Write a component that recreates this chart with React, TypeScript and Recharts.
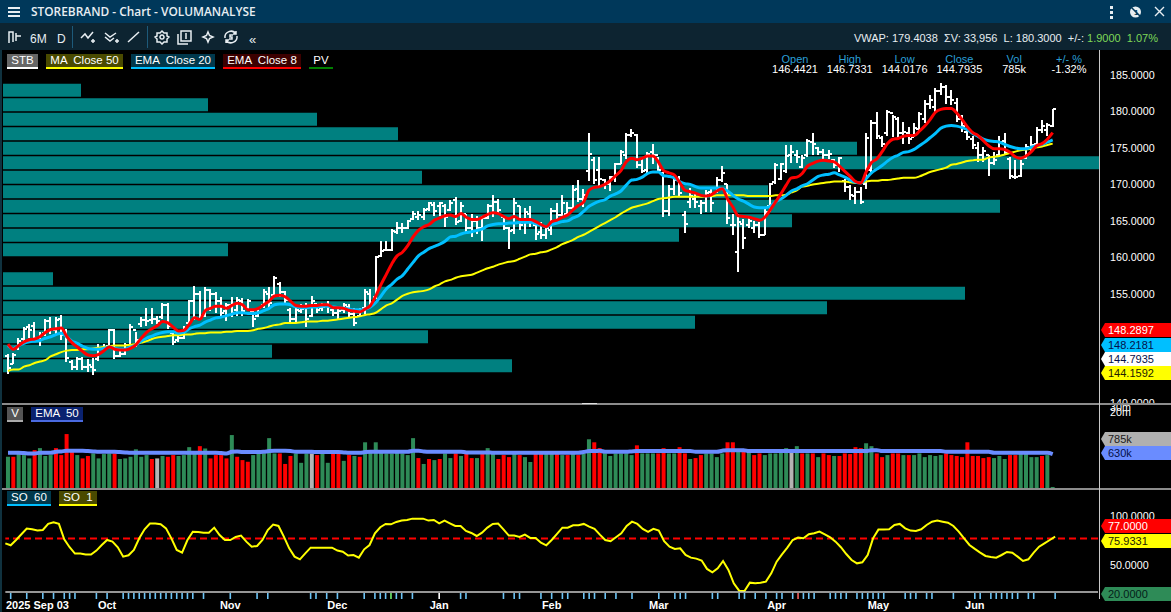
import React from 'react';
import {
  BarChart,
  ComposedChart,
  Bar,
  Line,
  Cell,
  XAxis,
  YAxis,
  ReferenceLine,
} from 'recharts';

const highs = [
  146.7,146.9,148.9,150.5,150.9,151.1,149.8,151.5,151.8,151.8,
  152.1,150.2,145.9,146.3,146.3,146.0,146.2,148.1,148.1,150.2,
  150.2,147.3,148.3,150.8,149.7,151.8,153.0,153.0,152.0,153.8,
  153.8,149.8,149.2,150.6,154.1,156.1,155.4,155.9,155.7,155.2,
  154.5,153.8,154.5,154.5,154.4,154.3,152.7,153.1,155.7,155.9,
  157.5,156.6,155.4,153.1,153.1,153.6,153.8,154.7,153.6,153.7,
  154.0,152.9,152.9,153.8,153.6,153.1,153.1,155.7,155.7,160.2,
  162.3,162.3,163.9,164.8,164.7,165.1,166.4,166.4,166.8,167.6,
  167.6,167.6,167.3,167.9,168.3,167.6,166.0,166.0,165.7,165.7,
  167.3,168.6,168.0,165.5,164.2,168.2,167.0,166.8,167.0,164.5,
  164.8,164.1,166.8,167.4,168.5,167.6,169.9,170.6,169.4,177.0,
  173.8,173.8,170.8,171.2,173.0,174.7,177.0,177.6,176.9,173.5,
  174.5,175.5,173.8,171.7,169.9,171.2,171.2,166.4,169.5,168.9,
  167.8,169.2,169.5,171.0,172.5,170.1,166.0,166.0,165.3,165.5,
  165.0,164.8,166.7,170.2,172.9,173.0,175.4,175.4,174.7,174.0,
  176.3,177.0,175.1,174.8,174.7,173.5,173.8,170.8,169.9,169.6,
  169.6,177.0,178.8,180.0,176.7,180.2,179.5,179.3,178.6,177.9,
  178.4,180.0,181.6,182.2,183.2,183.9,183.6,182.9,181.8,179.5,
  177.4,176.7,175.8,175.1,174.0,174.5,176.7,177.0,173.8,173.3,
  173.3,175.6,176.7,177.9,178.8,178.4,180.4,
];

const lows = [
  144.0,145.3,147.3,148.5,148.9,148.5,147.9,149.2,149.5,149.5,
  148.6,145.6,144.6,144.6,144.5,144.3,143.9,145.8,147.0,147.5,
  146.0,146.3,146.6,147.4,147.7,150.4,150.6,150.8,150.8,151.5,
  150.2,148.0,148.4,148.8,150.8,151.4,151.7,151.8,152.7,152.4,
  151.8,151.3,151.8,152.0,152.0,152.7,150.5,151.8,153.1,153.1,
  154.7,154.5,153.8,150.8,151.1,152.4,150.4,151.8,152.4,152.7,
  152.4,152.0,151.5,152.4,151.8,150.6,152.0,152.2,153.4,154.3,
  160.1,160.9,160.9,163.2,163.4,163.9,165.1,165.1,165.1,166.4,
  165.7,165.7,164.1,166.4,164.4,164.8,163.2,162.8,163.2,162.3,
  165.3,165.5,166.0,163.7,161.2,163.2,163.7,163.2,164.2,162.4,
  162.5,162.5,163.0,165.0,165.7,165.7,166.7,167.6,166.9,170.5,
  170.1,169.8,169.4,169.1,170.3,172.8,173.5,176.5,172.2,171.5,
  171.5,172.8,171.9,165.5,165.7,168.5,168.3,163.3,166.8,166.7,
  166.0,166.2,166.2,168.8,170.4,164.6,163.0,158.0,161.2,164.0,
  163.4,162.6,163.0,166.2,170.1,170.6,171.6,172.9,173.0,172.2,
  173.8,174.0,174.0,173.3,173.5,172.2,171.7,169.0,167.8,167.3,
  167.3,169.4,171.7,176.3,175.1,176.7,176.5,176.3,175.6,175.6,
  176.5,177.2,178.4,180.4,180.0,182.2,181.1,180.9,178.6,177.2,
  176.1,174.9,173.1,173.1,171.2,172.6,174.0,174.0,170.8,170.8,
  171.0,173.5,174.5,175.6,177.0,176.7,177.9,
];

const opens = [
  146.4,145.3,147.5,148.8,150.4,150.6,148.5,149.6,151.2,150.0,
  151.6,149.8,145.6,145.0,146.0,145.0,145.0,146.0,147.6,147.8,
  150.0,146.4,146.8,148.0,150.0,150.8,151.4,151.4,151.6,151.8,
  153.4,149.6,148.6,149.0,151.0,154.0,155.0,152.0,155.5,155.0,
  154.0,152.6,153.4,152.8,154.0,153.0,152.6,152.0,153.4,155.0,
  154.9,156.4,155.2,152.8,151.6,152.6,153.0,152.0,153.6,153.0,
  153.4,152.8,152.4,152.8,153.2,152.2,152.0,153.0,155.0,154.5,
  160.2,161.0,161.0,163.5,164.0,164.0,165.2,165.6,165.6,166.6,
  167.2,167.0,167.0,166.5,167.8,165.0,166.0,164.0,165.0,164.0,
  165.4,167.0,167.6,165.5,164.0,163.8,167.0,165.0,166.0,164.5,
  163.5,163.0,163.8,166.4,165.8,166.0,166.8,169.4,168.0,171.9,
  173.4,172.0,170.6,170.0,171.0,172.8,174.0,176.8,176.8,172.6,
  172.0,174.4,174.0,171.6,166.4,169.4,170.6,165.8,167.6,168.0,
  167.0,167.4,169.0,169.0,170.6,170.0,164.4,160.7,164.6,164.5,
  164.0,164.4,163.0,167.0,170.4,170.8,171.8,174.0,174.0,172.4,
  174.0,175.8,175.0,174.4,174.0,173.4,172.6,170.5,169.6,168.4,
  169.0,170.0,172.0,178.4,176.4,177.0,179.8,179.0,177.0,177.0,
  176.5,177.6,179.0,181.0,180.6,182.8,183.4,182.0,181.2,179.0,
  177.2,176.2,175.0,174.0,174.0,173.0,174.0,176.0,173.5,171.0,
  171.2,173.6,175.0,175.6,177.4,177.4,178.0,
];

const closes = [
  144.8,146.6,148.5,150.2,150.0,149.0,149.4,151.2,150.2,151.4,
  149.4,146.2,145.0,146.0,145.0,145.2,144.6,147.6,147.6,150.0,
  146.4,146.8,148.0,150.4,148.6,151.4,151.2,151.6,151.2,153.5,
  150.6,148.4,149.0,150.2,154.0,155.0,152.0,155.5,155.0,154.0,
  152.4,153.4,152.4,154.2,152.6,154.0,151.5,153.0,155.2,153.8,
  157.2,155.2,154.2,151.6,152.8,152.9,151.6,154.0,152.8,153.2,
  153.2,152.4,152.6,153.4,152.2,151.0,152.8,155.3,153.8,160.0,
  160.8,161.0,163.6,164.0,164.0,165.0,166.0,165.8,166.5,167.4,
  166.4,167.4,165.5,167.5,164.8,167.0,164.0,165.0,164.0,165.4,
  167.0,167.6,166.5,164.0,163.6,167.5,164.5,166.2,165.0,163.2,
  163.0,164.0,166.4,165.8,167.4,166.8,169.2,168.0,168.6,174.2,
  170.6,170.8,170.0,171.0,172.8,174.4,176.8,177.0,172.6,171.9,
  174.2,174.0,172.0,166.4,169.4,170.6,168.8,164.6,168.4,167.6,
  167.4,168.8,167.5,170.6,171.6,165.4,164.5,164.8,162.7,165.0,
  164.4,163.0,166.2,170.0,172.6,172.8,173.9,174.4,173.8,173.6,
  176.0,175.5,174.5,174.0,174.2,172.6,173.6,169.6,168.6,169.0,
  167.6,176.4,178.4,176.6,175.6,180.0,179.2,177.0,177.2,176.2,
  177.8,179.6,181.0,181.6,182.8,183.4,182.0,181.6,179.0,178.0,
  176.5,175.4,174.0,174.6,173.0,173.4,175.8,174.5,171.2,171.0,
  172.8,175.2,175.4,177.4,178.0,178.2,180.3,
];

const ema8 = [
  148.1,147.4,147.9,148.4,148.7,148.8,149.1,149.7,150.1,150.2,
  150.3,149.2,148.3,147.7,147.1,146.6,146.5,146.7,147.2,147.7,
  147.4,147.3,147.3,147.5,148.0,148.9,149.7,150.2,150.6,151.2,
  151.0,150.4,149.9,150.0,150.8,151.7,151.5,152.7,153.0,153.3,
  153.3,153.0,153.4,153.7,153.5,152.8,152.8,153.0,153.5,154.0,
  154.7,154.8,154.6,154.0,153.4,153.3,153.3,153.4,153.4,153.5,
  153.5,153.1,153.1,153.0,152.7,152.6,152.5,152.9,153.4,154.7,
  156.3,157.7,159.1,160.2,160.7,161.6,162.8,163.7,164.2,164.5,
  165.1,165.4,165.7,165.8,165.6,166.0,165.5,165.2,165.2,165.5,
  165.9,166.1,166.0,165.6,165.3,165.6,165.2,165.2,165.2,164.9,
  164.5,164.2,164.9,165.1,165.5,165.8,166.5,167.1,167.6,169.2,
  169.6,169.7,170.0,170.5,171.2,171.9,173.1,173.6,173.4,173.6,
  173.9,173.9,173.1,171.9,171.6,171.3,170.3,169.2,169.0,168.8,
  168.5,168.4,168.6,169.1,169.4,168.0,166.9,165.7,165.6,165.5,
  165.3,165.1,165.5,166.5,167.6,168.7,169.9,170.9,171.0,171.5,
  172.5,172.9,173.2,173.3,173.2,173.1,172.5,171.8,171.1,170.4,
  170.2,171.7,173.0,173.5,174.5,175.6,176.2,176.3,176.6,176.7,
  176.7,177.3,178.0,178.9,179.9,180.3,180.4,180.4,179.8,178.9,
  177.9,177.1,176.7,176.0,175.3,174.9,174.9,174.8,174.4,173.8,
  173.6,173.9,174.5,175.3,175.6,176.2,177.1,
];

const ema20 = [
  147.9,147.5,147.9,148.2,148.4,148.5,148.6,148.9,149.1,149.4,
  149.6,149.1,148.5,148.2,147.8,147.5,147.4,147.4,147.5,147.7,
  147.5,147.4,147.4,147.7,148.0,148.5,148.9,149.2,149.5,149.7,
  149.8,149.8,149.6,149.7,150.2,150.5,150.7,151.1,151.4,151.7,
  151.8,152.0,152.2,152.4,152.4,152.3,152.3,152.4,152.7,153.0,
  153.5,153.6,153.6,153.5,153.2,153.1,153.1,153.2,153.2,153.3,
  153.3,153.2,153.1,153.0,152.9,152.8,152.8,152.9,153.2,153.8,
  154.7,155.7,156.3,157.0,157.5,158.4,159.3,160.2,160.7,161.2,
  161.5,161.8,162.2,162.8,162.9,163.2,163.4,163.5,163.7,163.9,
  164.3,164.5,164.6,164.6,164.7,164.7,164.8,164.8,164.8,164.6,
  164.4,164.2,164.5,164.7,164.9,165.0,165.4,165.7,166.3,167.0,
  167.4,167.7,167.9,168.4,168.7,169.1,169.9,170.6,170.7,171.0,
  171.5,171.7,171.7,171.2,171.1,170.9,170.4,170.1,170.0,169.7,
  169.5,169.5,169.5,169.5,169.4,169.1,168.5,168.0,167.7,167.3,
  166.9,166.8,166.8,167.0,167.6,168.0,168.5,169.1,169.4,169.8,
  170.1,170.6,171.1,171.3,171.4,171.6,171.3,171.0,170.6,170.3,
  170.2,170.8,171.6,172.1,172.6,173.2,173.7,174.0,174.4,174.5,
  174.8,175.3,175.8,176.4,177.0,177.7,178.0,178.1,178.0,177.8,
  177.5,177.0,176.6,176.2,176.0,175.9,175.8,175.5,175.2,175.0,
  174.9,174.9,175.1,175.3,175.5,175.8,176.1,
];

const ma50 = [
  144.4,144.6,144.6,145.0,145.2,145.5,145.7,145.9,146.4,146.7,
  147.0,147.2,147.3,147.3,147.4,147.4,147.5,147.6,147.7,147.8,
  147.9,147.9,147.9,148.0,148.1,148.3,148.5,148.8,149.0,149.1,
  149.2,149.3,149.3,149.4,149.4,149.5,149.6,149.6,149.7,149.7,
  149.7,149.8,149.8,149.9,149.9,149.9,150.0,150.2,150.3,150.5,
  150.7,150.8,151.0,151.0,151.0,151.1,151.2,151.2,151.2,151.3,
  151.3,151.4,151.5,151.6,151.7,151.8,151.9,152.1,152.2,152.4,
  152.9,153.4,153.7,154.2,154.7,155.0,155.2,155.3,155.4,155.6,
  156.0,156.3,156.7,156.9,157.2,157.4,157.5,157.6,157.9,158.2,
  158.5,158.7,159.0,159.2,159.4,159.5,159.8,160.1,160.4,160.5,
  160.7,160.8,161.1,161.4,161.8,162.1,162.4,162.8,163.1,163.5,
  163.9,164.3,164.7,165.1,165.5,166.0,166.4,166.8,167.0,167.2,
  167.4,167.7,168.0,168.1,168.2,168.3,168.3,168.3,168.3,168.3,
  168.3,168.4,168.4,168.5,168.5,168.5,168.5,168.5,168.5,168.4,
  168.4,168.4,168.4,168.4,168.5,168.5,168.6,168.9,169.2,169.7,
  169.8,170.0,170.1,170.2,170.3,170.4,170.4,170.4,170.3,170.2,
  170.2,170.4,170.5,170.5,170.6,170.6,170.7,170.8,170.9,170.9,
  170.9,171.1,171.4,171.7,171.9,172.1,172.3,172.7,172.8,173.0,
  173.2,173.3,173.4,173.4,173.7,173.8,173.9,174.1,174.3,174.5,
  174.7,174.8,174.9,175.1,175.2,175.4,175.6,
];

// volume in thousands
const volumes = [
  458,458,607,528,399,800,950,490,528,950,
  528,3100,860,528,399,490,607,399,575,607,
  607,380,399,458,860,458,528,380,399,490,
  458,528,490,528,1030,607,1120,920,399,528,
  528,399,2850,458,346,301,528,607,607,2200,
  607,607,250,490,607,275,607,607,528,607,
  275,607,607,325,528,490,458,1550,800,1550,
  800,607,607,800,607,528,2200,410,250,380,
  346,380,607,410,607,490,607,410,410,607,
  950,607,380,528,445,607,528,445,295,607,
  607,607,607,607,528,528,607,528,607,2000,
  1550,950,607,490,607,607,607,528,1200,607,
  607,607,607,950,607,607,1030,607,380,410,
  528,607,607,445,607,1550,1550,800,800,700,
  528,607,528,607,607,700,950,800,1120,607,
  607,607,445,607,528,490,490,607,575,1030,
  950,1430,1120,607,445,528,607,607,528,528,
  528,607,445,528,490,528,607,528,490,445,
  1550,490,490,410,445,410,490,380,528,528,
  607,607,445,445,490,528,36,
];

const volumeColors = [
  'g','r','g','g','g','r','g','g','g','r',
  'r','r','r','g','r','r','g','g','g','g',
  'r','g','g','g','g','g','g','r','s','g',
  'r','r','g','g','g','g','r','g','r','r',
  'r','r','g','r','r','r','g','g','g','g',
  'g','r','r','r','g','g','g','s','r','g',
  'g','r','r','g','r','g','r','g','g','g',
  'g','g','g','g','g','g','g','r','g','r',
  'g','r','g','g','r','g','r','r','g','r',
  'g','g','r','r','r','g','r','g','g','r',
  'r','g','g','r','g','r','g','r','g','g',
  'r','r','g','g','g','g','g','g','r','g',
  'g','g','r','r','g','g','r','r','g','r',
  'r','g','g','g','g','r','r','g','r','g',
  'r','r','g','g','g','g','g','s','g','r',
  'g','r','g','r','r','g','r','r','r','r',
  'r','g','g','r','r','g','r','r','g','r',
  'g','g','g','g','g','g','r','r','r','r',
  'r','r','r','r','r','g','g','g','r','r',
  'g','g','g','g','r','g','g',
];

const volumeEma = [
  640,640,640,625,607,607,640,640,640,700,
  720,760,760,760,760,740,720,700,700,700,
  700,680,660,640,640,640,640,640,640,640,
  640,640,640,640,640,640,640,640,640,640,
  625,607,700,720,680,680,680,680,700,740,
  760,760,760,740,700,700,700,700,680,680,
  680,680,680,660,640,640,640,680,700,700,
  700,700,700,700,700,700,760,760,720,700,
  700,700,700,700,700,700,660,660,660,660,
  660,640,640,640,640,640,640,640,640,640,
  640,640,640,640,640,640,640,640,680,740,
  740,760,700,700,700,700,700,720,740,740,
  740,740,740,740,740,740,740,740,740,700,
  700,700,700,700,760,800,800,800,800,740,
  740,740,740,740,740,740,740,740,740,740,
  740,740,740,740,740,740,740,740,740,740,
  740,740,800,800,740,740,740,740,740,740,
  740,740,740,740,740,740,700,700,700,700,
  700,700,700,700,700,640,640,640,640,640,
  640,640,640,640,640,640,575,
];

const stochastic = [
  72.1,70.1,75.5,81.3,87.1,86.4,85.1,85.7,91.9,93.6,
  91.9,76.2,68.1,61.6,61.6,60.6,60.6,64.7,70.4,75.5,
  73.8,68.1,58.5,59.9,65.3,77.2,86.4,92.2,92.2,91.5,
  87.4,77.2,65.3,62.6,75.5,84.0,83.7,83.0,83.0,88.1,
  80.6,75.5,75.5,78.6,80.0,73.8,68.7,69.4,75.5,85.7,
  91.2,89.8,78.9,67.0,58.5,55.8,61.9,67.7,67.7,67.7,
  67.7,67.7,64.7,63.6,59.6,60.2,57.5,66.0,70.4,82.3,
  88.5,91.9,91.5,93.9,95.3,95.9,97.3,97.3,97.3,95.3,
  95.9,92.5,95.3,92.5,89.8,89.8,84.7,82.7,79.6,83.0,
  88.1,91.9,92.2,86.4,80.0,80.0,78.6,81.0,77.6,77.6,
  72.8,70.1,75.5,81.7,88.1,88.1,90.5,90.5,91.9,89.1,
  86.8,81.0,75.5,74.2,78.3,82.3,89.8,94.2,91.9,86.8,
  83.7,86.8,85.1,74.2,68.7,66.4,67.0,60.2,57.5,56.5,
  54.5,46.0,42.5,46.6,54.1,44.9,31.3,23.8,23.5,32.0,
  31.3,32.0,33.0,41.5,53.4,60.9,67.7,75.5,77.9,77.2,
  81.3,82.3,84.0,81.3,78.3,73.8,68.1,61.2,55.1,51.7,
  52.8,60.2,77.2,86.1,86.1,86.4,90.8,91.9,87.4,85.1,
  84.7,86.4,90.8,94.2,95.3,94.2,93.2,89.8,84.0,77.2,
  70.4,66.4,62.6,59.2,58.2,57.5,60.2,63.3,62.6,58.5,
  54.1,55.8,62.6,68.7,72.1,75.5,78.9,
];

// price volume profile, top band first
const profileBands = [
  183,181,179,177,175,173,171,169,167,165,163,161,159,157,155,153,151,149,147,145,
];
const profileVolumes = [
  78,205,314,395,854,1097,419,765,997,789,676,225,0,50,962,824,692,425,269,509,
];

const monthBars = [0, 19, 42, 62, 81, 102, 122, 144, 163, 181];
const monthLabels = ['2025 Sep 03', 'Oct', 'Nov', 'Dec', 'Jan', 'Feb', 'Mar', 'Apr', 'May', 'Jun'];
const eventBars = [
  1,4,7,9,11,12,13,17,19,22,23,24,25,26,27,28,29,30,31,32,33,34,35,37,42,47,49,57,58,60,62,67,69,70,71,72,73,
  74,76,85,86,93,95,96,100,102,104,105,108,109,110,112,114,117,122,125,126,127,132,133,137,
  138,140,142,144,145,147,148,149,150,151,154,155,156,157,159,160,161,162,163,164,168,169,170,172,173,177,
  181,182,184,185,186,187,188,189,191,192,196,
];

const priceTicks = [140, 145, 150, 155, 160, 165, 170, 175, 180, 185];
const volumeTicks = [20000, 30000];
const soTicks = [50, 100];
const SO_LEVEL = 77;

const headerStats = [
  ['Open', '146.4421'],
  ['High', '146.7331'],
  ['Low', '144.0176'],
  ['Close', '144.7935'],
  ['Vol', '785k'],
  ['+/- %', '-1.32%'],
];

const SLOTS = 205; // bars plus the empty space before the axis
const rows = Array.from({ length: SLOTS }, (_, i) => ({
  i,
  high: highs[i],
  low: lows[i],
  open: opens[i],
  close: closes[i],
  range: i < highs.length ? [lows[i], highs[i]] : null,
  ema8: ema8[i],
  ema20: ema20[i],
  ma50: ma50[i],
  volume: volumes[i],
  volumeEma: volumeEma[i],
  so: stochastic[i],
}));
const profileRows = profileBands.map((band, i) => ({ band, volume: profileVolumes[i] }));
const axisTicks = Array.from(new Set([...monthBars, ...eventBars])).sort((a, b) => a - b);

const FONT = '"Liberation Sans", Arial, sans-serif';
const PLOT_LEFT = 5.33;
const AXIS_WIDTH = 73;
const colorOf: Record<string, string> = { g: '#2e8b57', r: '#ff0000', s: '#b4b4b4' };

const OhlcBar = (props: any) => {
  const { x, y, width, height, payload } = props;
  if (!payload || payload.high == null) return null;
  const cx = x + width / 2;
  const yOf = (p: number) => y + ((payload.high - p) / (payload.high - payload.low)) * height;
  return (
    <g stroke="#fff" strokeWidth={2} shapeRendering="crispEdges">
      <line x1={cx} x2={cx} y1={y} y2={y + height} />
      <line x1={cx - 3} x2={cx} y1={yOf(payload.open)} y2={yOf(payload.open)} />
      <line x1={cx} x2={cx + 3} y1={yOf(payload.close)} y2={yOf(payload.close)} />
    </g>
  );
};

const TimeTick = (props: any) => {
  const { x, y, payload } = props;
  const bar = payload.value;
  const month = monthBars.indexOf(bar);
  let color = '#6cc4f5';
  if (bar === 148) color = '#f06060';
  if (bar === 72) color = '#70f070';
  if (bar === 81) color = '#ffffff';
  const isEvent = eventBars.includes(bar) || bar === 81;
  return (
    <g>
      {isEvent && <line x1={x} x2={x} y1={y + 1} y2={y + 7} stroke={color} strokeWidth={1.6} />}
      {month >= 0 && (
        <text
          x={month === 0 ? 6 : x}
          y={y + 17}
          textAnchor={month === 0 ? 'start' : 'middle'}
          fill="#fff"
          fontFamily={FONT}
          fontSize={11}
          fontWeight="bold"
        >
          {monthLabels[month]}
        </text>
      )}
    </g>
  );
};

const Chip = ({ left, top, width, bg, line, children }: any) => (
  <div
    style={{
      position: 'absolute', left, top, width, height: 13, background: bg,
      borderBottom: `2px solid ${line}`, color: '#fff', fontSize: 11.5,
      lineHeight: '13px', textAlign: 'center', whiteSpace: 'pre',
    }}
  >
    {children}
  </div>
);

const PriceTag = ({ top, bg, color, children }: any) => (
  <div
    style={{
      position: 'absolute', left: 1101, top, width: 70, height: 14, background: bg, color,
      fontSize: 11, lineHeight: '14px', paddingLeft: 7, boxSizing: 'border-box',
      clipPath: 'polygon(4px 0, 100% 0, 100% 100%, 4px 100%, 0 50%)',
    }}
  >
    {children}
  </div>
);

const Icon = ({ left, d }: { left: number; d: string }) => (
  <svg style={{ position: 'absolute', left, top: 29 }} width={16} height={16} viewBox="0 0 16 16">
    <path d={d} fill="none" stroke="#e8eef2" strokeWidth={1.5} />
  </svg>
);

export default function App() {
  return (
    <div
      style={{
        position: 'absolute', left: 0, top: 0, width: 1171, height: 612,
        background: '#000', overflow: 'hidden', fontFamily: FONT,
      }}
    >
      {/* title bar */}
      <div style={{ position: 'absolute', left: 0, top: 0, width: 1171, height: 23, background: '#00385a' }} />
      <div style={{ position: 'absolute', left: 8, top: 7, width: 12, height: 2, background: '#e8eef2', boxShadow: '0 4px 0 #e8eef2, 0 8px 0 #e8eef2' }} />
      <div style={{ position: 'absolute', left: 31, top: 3, color: '#e8eef2', fontFamily: '"Open Sans"', fontWeight: 600, fontSize: 11.9, lineHeight: '17px', whiteSpace: 'nowrap' }}>
        STOREBRAND - Chart - VOLUMANALYSE
      </div>
      <div style={{ position: 'absolute', left: 1110, top: 6, width: 3, height: 3, background: '#e8eef2', boxShadow: '0 5px 0 #e8eef2, 0 10px 0 #e8eef2' }} />
      <svg style={{ position: 'absolute', left: 1128, top: 4 }} width={16} height={16} viewBox="0 0 16 16">
        <circle cx={7.5} cy={8} r={5.5} fill="#e8eef2" />
        <path d="M2 2 L14 14" stroke="#00385a" strokeWidth={1.5} />
        <text x={6} y={11} fontSize={8} fontWeight="bold" fill="#00385a">1</text>
      </svg>
      <svg style={{ position: 'absolute', left: 1153, top: 5 }} width={13} height={13} viewBox="0 0 13 13">
        <path d="M2 2 L11 11 M11 2 L2 11" stroke="#e8eef2" strokeWidth={1.4} />
      </svg>

      {/* toolbar */}
      <div style={{ position: 'absolute', left: 0, top: 23, width: 1171, height: 27, background: '#0d2431' }} />
      <Icon left={6} d="M3 14 V3 H7 V13 M7 3 V13 M10 4 V12 M10 7 H15" />
      <div style={{ position: 'absolute', left: 30, top: 32, color: '#e8eef2', fontSize: 12, lineHeight: '14px' }}>6M</div>
      <div style={{ position: 'absolute', left: 57, top: 32, color: '#e8eef2', fontSize: 12, lineHeight: '14px' }}>D</div>
      <div style={{ position: 'absolute', left: 72, top: 26, width: 1, height: 22, background: '#1d5a7a' }} />
      <Icon left={80} d="M1 9 L5 5 L8 9 L13 3 M11 12 H15 M13 10 V14" />
      <Icon left={104} d="M1 4 L6 8 L12 4 M1 8 L6 12 L10 9 M11 12 H15 M13 10 V14" />
      <Icon left={126} d="M2 13 L13 3" />
      <div style={{ position: 'absolute', left: 147, top: 26, width: 1, height: 22, background: '#1d5a7a' }} />
      <Icon left={154} d="M8 2 L10 4 L13 4 L13 7 L15 8 L13 10 L13 13 L10 13 L8 15 L6 13 L3 13 L3 10 L1 8 L3 7 L3 4 L6 4 Z M8 6 A2 2 0 1 0 8.01 6" />
      <Icon left={177} d="M1 5 V15 H11 M4 2 H14 V12 H4 Z M9 4 V10" />
      <Icon left={200} d="M8 3 L9.5 6.5 L13 8 L9.5 9.5 L8 13 L6.5 9.5 L3 8 L6.5 6.5 Z" />
      <Icon left={223} d="M2 9 A6 6 0 0 1 13 5 M14 7 A6 6 0 0 1 3 11 M13 2 V5 H10 M3 14 V11 H6 M10 6 H7 V8 H9 V10 H6" />
      <div style={{ position: 'absolute', left: 249, top: 33, color: '#e8eef2', fontSize: 13, lineHeight: '14px' }}>«</div>
      <div style={{ position: 'absolute', right: 13, top: 31, color: '#e8eef2', fontSize: 11, lineHeight: '14px', whiteSpace: 'pre' }}>
        VWAP: 179.4038  ΣV: 33,956  L: 180.3000  +/-: <span style={{ color: '#7ed957' }}>1.9000  1.07%</span>
      </div>

      {/* volume profile behind the price bars */}
      <div style={{ position: 'absolute', left: 0, top: 82.5 }}>
        <BarChart
          width={1100}
          height={290}
          data={profileRows}
          layout="vertical"
          barCategoryGap="6%"
          margin={{ top: 0, right: 0, bottom: 0, left: 3 }}
        >
          <XAxis type="number" domain={[0, 1097]} hide />
          <YAxis type="category" dataKey="band" hide />
          <Bar dataKey="volume" fill="#008080" isAnimationActive={false} />
        </BarChart>
      </div>

      {/* price panel */}
      <div style={{ position: 'absolute', left: 0, top: 50 }}>
        <ComposedChart
          width={1171}
          height={354}
          data={rows}
          barCategoryGap={0}
          margin={{ top: 0, right: 0, bottom: 0, left: PLOT_LEFT }}
        >
          <XAxis dataKey="i" hide />
          <YAxis
            orientation="right"
            width={AXIS_WIDTH}
            domain={[139.88, 188.44]}
            ticks={priceTicks}
            interval={0}
            allowDataOverflow
            axisLine={false}
            tickLine={false}
            tickMargin={6}
            tick={{ fill: '#fff', fontSize: 10.7, fontFamily: FONT }}
            tickFormatter={(v: number) => v.toFixed(4)}
          />
          <Bar dataKey="range" shape={<OhlcBar />} isAnimationActive={false} />
          <Line type="monotone" dataKey="ma50" stroke="#ffff00" strokeWidth={2} dot={false} isAnimationActive={false} />
          <Line type="monotone" dataKey="ema20" stroke="#00bfff" strokeWidth={3} dot={false} isAnimationActive={false} />
          <Line type="monotone" dataKey="ema8" stroke="#ff0000" strokeWidth={3} dot={false} isAnimationActive={false} />
        </ComposedChart>
      </div>

      {/* volume panel */}
      <div style={{ position: 'absolute', left: 0, top: 404 }}>
        <ComposedChart
          width={1171}
          height={84}
          data={rows}
          barCategoryGap="12%"
          margin={{ top: 0, right: 0, bottom: 0, left: PLOT_LEFT }}
        >
          <XAxis dataKey="i" hide />
          <YAxis
            orientation="right"
            width={AXIS_WIDTH}
            scale="log"
            domain={[33, 39000]}
            ticks={volumeTicks}
            interval={0}
            allowDataOverflow
            axisLine={false}
            tickLine={false}
            tickMargin={6}
            tick={{ fill: '#fff', fontSize: 10.7, fontFamily: FONT }}
            tickFormatter={(v: number) => `${v / 1000}m`}
          />
          <Bar dataKey="volume" isAnimationActive={false}>
            {rows.map((row) => (
              <Cell key={row.i} fill={colorOf[volumeColors[row.i]] || 'transparent'} />
            ))}
          </Bar>
          <Line type="monotone" dataKey="volumeEma" stroke="#6a8cff" strokeWidth={4} dot={false} isAnimationActive={false} />
        </ComposedChart>
      </div>

      {/* stochastic panel and time axis */}
      <div style={{ position: 'absolute', left: 0, top: 490 }}>
        <ComposedChart
          width={1171}
          height={122}
          data={rows}
          margin={{ top: 0, right: 0, bottom: 0, left: PLOT_LEFT }}
        >
          <XAxis
            dataKey="i"
            height={20}
            ticks={axisTicks}
            interval={0}
            tickLine={false}
            tickSize={0}
            tickMargin={0}
            axisLine={{ stroke: '#c8c8c8', strokeWidth: 1.5 }}
            tick={<TimeTick />}
          />
          <YAxis
            orientation="right"
            width={AXIS_WIDTH}
            domain={[22.45, 126.5]}
            ticks={soTicks}
            interval={0}
            allowDataOverflow
            axisLine={false}
            tickLine={false}
            tickMargin={6}
            tick={{ fill: '#fff', fontSize: 10.7, fontFamily: FONT }}
            tickFormatter={(v: number) => v.toFixed(4)}
          />
          <ReferenceLine y={SO_LEVEL} stroke="#ff0000" strokeWidth={2} strokeDasharray="7 4" />
          <Line type="linear" dataKey="so" stroke="#ffff00" strokeWidth={2} dot={false} isAnimationActive={false} />
        </ComposedChart>
      </div>

      {/* panel separators and right axis */}
      <div style={{ position: 'absolute', left: 0, top: 403, width: 1171, height: 2, background: '#8c8c8c' }} />
      <div style={{ position: 'absolute', left: 582, top: 403, width: 15, height: 1, background: '#e0e0e0' }} />
      <div style={{ position: 'absolute', left: 0, top: 488, width: 1171, height: 2, background: '#8c8c8c' }} />
      <div style={{ position: 'absolute', left: 1099, top: 50, width: 1, height: 549, background: '#c8c8c8' }} />
      <div style={{ position: 'absolute', left: 0, top: 50, width: 2, height: 562, background: '#10323f' }} />

      {/* legends */}
      <Chip left={7} top={54} width={31} bg="#666666" line="#ffffff">STB</Chip>
      <Chip left={46} top={54} width={77} bg="#4a4a00" line="#ffff00">{'MA  Close 50'}</Chip>
      <Chip left={131} top={54} width={84} bg="#00384c" line="#00bfff">{'EMA  Close 20'}</Chip>
      <Chip left={223} top={54} width={78} bg="#3c0000" line="#ff0000">{'EMA  Close 8'}</Chip>
      <Chip left={309} top={54} width={24} bg="transparent" line="#008000">PV</Chip>
      <Chip left={7} top={407} width={16} bg="#555555" line="#aaaaaa">V</Chip>
      <Chip left={31} top={407} width={52} bg="#0a2270" line="#4a6ae0">{'EMA  50'}</Chip>
      <Chip left={7} top={491} width={44} bg="#00384c" line="#00bfff">{'SO  60'}</Chip>
      <Chip left={59} top={491} width={38} bg="#4a4a00" line="#ffff00">{'SO  1'}</Chip>

      {/* bar readout */}
      {headerStats.map(([label, value], i) => (
        <div
          key={label}
          style={{
            position: 'absolute', left: 767 + i * 54.8, top: 54, width: 56, textAlign: 'center',
            fontSize: 11, lineHeight: '10px', whiteSpace: 'nowrap',
          }}
        >
          <div style={{ color: '#2a9fd6' }}>{label}</div>
          <div style={{ color: '#fff' }}>{value}</div>
        </div>
      ))}

      {/* value tags on the axis */}
      <PriceTag top={323} bg="#ff0000" color="#fff">148.2897</PriceTag>
      <PriceTag top={338} bg="#00bfff" color="#04104a">148.2181</PriceTag>
      <PriceTag top={352} bg="#ffffff" color="#04104a">144.7935</PriceTag>
      <PriceTag top={366} bg="#ffff00" color="#222200">144.1592</PriceTag>
      <PriceTag top={432} bg="#b0b0b0" color="#1a1a1a">785k</PriceTag>
      <PriceTag top={446} bg="#6a8cff" color="#04104a">630k</PriceTag>
      <PriceTag top={519} bg="#ff0000" color="#fff">77.0000</PriceTag>
      <PriceTag top={534} bg="#ffff00" color="#222200">75.9331</PriceTag>
      <PriceTag top={587} bg="#2e8b57" color="#04201a">20.0000</PriceTag>
    </div>
  );
}
